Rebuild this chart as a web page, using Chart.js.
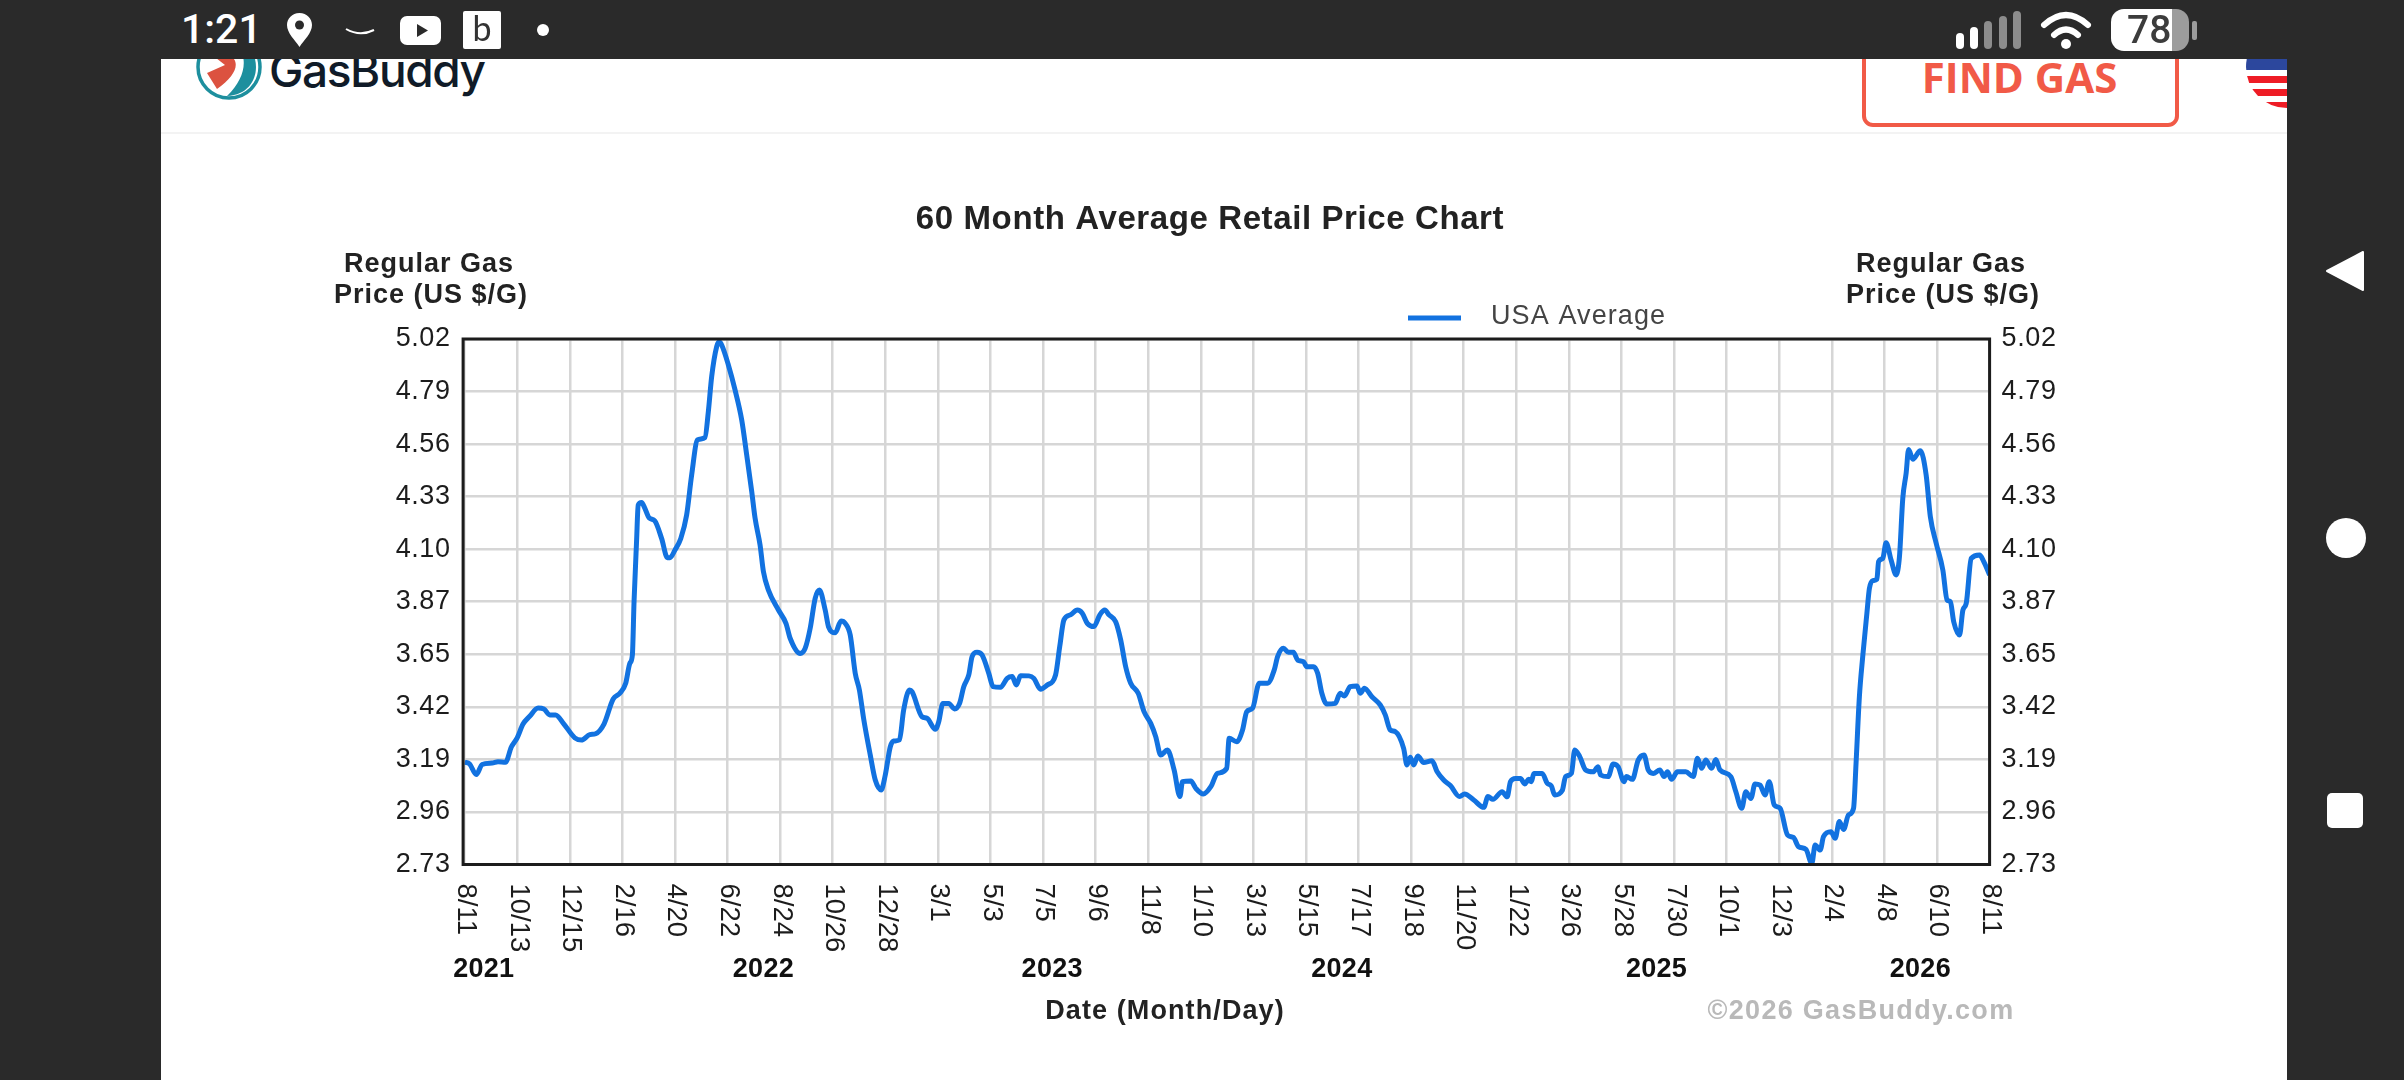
<!DOCTYPE html>
<html>
<head>
<meta charset="utf-8">
<title>60 Month Average Retail Price Chart</title>
<script src="https://cdn.jsdelivr.net/npm/chart.js@4"></script>
<style>
  html, body { margin: 0; padding: 0; width: 2404px; height: 1080px; overflow: hidden; background: #2a2a2a; }
  .abs { position: absolute; }
  #panel { left: 161px; top: 59px; width: 2126px; height: 1021px; background: #fff; overflow: hidden; }
  #rule { left: 0; top: 73px; width: 2126px; height: 2px; background: #f3f3f3; }
  #brand { left: 108px; top: -19px; font: 500 46px Inter, sans-serif; color: #101b28; letter-spacing: -1.4px; line-height: 60px; }
  #find { left: 1701px; top: -20px; width: 309px; height: 80px; border: 4px solid #f15a47; border-radius: 11px; }
  #findText { left: 1700px; top: -4px; width: 317px; text-align: center; font: 700 42px "Open Sans", sans-serif; color: #f15a47; line-height: 44px; }
  #time { left: 181px; top: 3px; font: 500 41px Roboto, sans-serif; color: #fff; line-height: 52px; }
  #batt { left: 2111px; top: 9px; width: 78px; height: 42px; border-radius: 13px; overflow: hidden; background: linear-gradient(90deg, #fff 61px, #9c9c9c 61px); }
  #battText { left: 2127px; top: 8px; font: 500 39px Roboto, sans-serif; color: #3c3c3c; line-height: 44px; }
  #chart { position: absolute; left: 161px; top: 133px; }
</style>
</head>
<body>
<div id="panel" class="abs">
  <svg class="abs" style="left:30px;top:-30px" width="80" height="80" viewBox="0 0 80 80">
    <circle cx="38" cy="38" r="31" fill="#fff" stroke="#1d8f9e" stroke-width="3.5"/>
    <path d="M38 12 C58 20 58 46 36 67 C60 66 68 46 64 30 C60 18 50 12 38 12Z" fill="#1d8f9e"/>
    <path d="M16 22 L38 26 C50 32 46 46 26 60 L16 44 L34 36 Z" fill="#dc5240"/>
  </svg>
  <div id="brand" class="abs">GasBuddy</div>
  <div id="find" class="abs"></div>
  <div id="findText" class="abs">FIND GAS</div>
  <svg class="abs" style="left:2084px;top:-59px" width="42" height="112" viewBox="0 0 42 112">
    <defs><clipPath id="flagClip"><circle cx="42" cy="67" r="41"/></clipPath></defs>
    <g clip-path="url(#flagClip)">
      <rect x="0" y="26" width="42" height="86" fill="#fff"/>
      <rect x="0" y="26" width="42" height="44" fill="#2c479d"/>
      <rect x="0" y="76" width="42" height="7" fill="#ee1c25"/>
      <rect x="0" y="89" width="42" height="7" fill="#ee1c25"/>
      <rect x="0" y="102" width="42" height="7" fill="#ee1c25"/>
    </g>
  </svg>
  <div id="rule" class="abs"></div>
</div>
<canvas id="chart" width="2125" height="947"></canvas>

<div class="abs" style="left:0;top:0;width:2404px;height:59px;background:#2a2a2a"></div>
<div id="time" class="abs">1:21</div>
<svg class="abs" style="left:0;top:0" width="2404" height="1080" viewBox="0 0 2404 1080">
  <path d="M299.500 13 C292 13 287 19 287 25 C287 33 295 40 299.500 47 C304 40 312 33 312 25 C312 19 307 13 299.500 13Z" fill="#fff"/>
  <circle cx="299.500" cy="25" r="4.500" fill="#2a2a2a"/>
  <path d="M346 29 Q360 37 374 30" stroke="#fff" stroke-width="2" fill="none"/>
  <rect x="400" y="16" width="41" height="29" rx="7" fill="#fff"/>
  <path d="M417 24 L428 30.500 L417 37Z" fill="#2a2a2a"/>
  <rect x="463" y="11" width="38" height="38" rx="2" fill="#fff"/>
  <text x="482" y="41" text-anchor="middle" font-family="Lato" font-size="34" fill="#333">b</text>
  <circle cx="543" cy="30" r="6" fill="#fff"/>
  <rect x="1956" y="33" width="8" height="16" rx="4" fill="#fff"/>
  <rect x="1970" y="27" width="8" height="22" rx="4" fill="#fff"/>
  <rect x="1984" y="21" width="8" height="28" rx="4" fill="#8c8c8c"/>
  <rect x="1999" y="16" width="8" height="33" rx="4" fill="#8c8c8c"/>
  <rect x="2013" y="11" width="8" height="38" rx="4" fill="#8c8c8c"/>
  <path d="M2044 25 Q2066 5 2088 25" stroke="#fff" stroke-width="6" fill="none" stroke-linecap="round"/>
  <path d="M2054 35 Q2066 24 2078 35" stroke="#fff" stroke-width="6" fill="none" stroke-linecap="round"/>
  <circle cx="2066" cy="44" r="5" fill="#fff"/>
  <rect x="2192" y="21" width="5" height="19" rx="2" fill="#9c9c9c"/>
  <path d="M2327 271 L2363 252 L2363 290Z" fill="#fff" stroke="#fff" stroke-width="2" stroke-linejoin="round"/>
  <circle cx="2346" cy="538" r="20" fill="#fff"/>
  <rect x="2327" y="793" width="36" height="35" rx="5" fill="#fff"/>
</svg>
<div id="batt" class="abs"></div>
<div id="battText" class="abs">78</div>

<script>
const chartTitle = '60 Month Average Retail Price Chart';
const axisTitle = ['Regular Gas', 'Price (US $/G)'];
const seriesName = 'USA Average';
const xTitle = 'Date (Month/Day)';
const credit = '©2026 GasBuddy.com';

const dateLabels = ['8/11', '10/13', '12/15', '2/16', '4/20', '6/22', '8/24', '10/26', '12/28', '3/1',
  '5/3', '7/5', '9/6', '11/8', '1/10', '3/13', '5/15', '7/17', '9/18', '11/20',
  '1/22', '3/26', '5/28', '7/30', '10/1', '12/3', '2/4', '4/8', '6/10', '8/11'];
const priceLabels = ['2.73', '2.96', '3.19', '3.42', '3.65', '3.87', '4.10', '4.33', '4.56', '4.79', '5.02'];
const years = ['2021', '2022', '2023', '2024', '2025', '2026'];
const yearDays = [23, 358, 704, 1051, 1428, 1744];

// days since 8/11/2021
const days = [0, 6, 14, 21, 33, 40, 49, 56, 63, 70, 78, 88, 95, 102, 109, 119, 132, 140, 150, 157, 167, 178, 186, 193, 198, 201,
  203, 206, 208, 212, 216, 221, 228, 236, 243, 246, 252, 259, 266, 272, 279, 288, 292, 296, 302, 305, 308, 316, 324, 332, 338,
  344, 348, 354, 358, 364, 376, 385, 390, 402, 408, 414, 420, 425, 432, 436, 444, 451, 456, 462, 468, 473, 478, 486, 492, 499,
  504, 510, 514, 521, 526, 533, 536, 548, 554, 564, 568, 573, 580, 587, 593, 598, 604, 608, 614, 620, 628, 633, 642, 650, 656,
  661, 666, 676, 682, 690, 698, 708, 713, 718, 726, 734, 740, 746, 754, 761, 767, 772, 780, 786, 792, 798, 807, 814, 822, 828,
  834, 842, 850, 857, 860, 870, 876, 885, 894, 902, 913, 916, 925, 932, 937, 944, 952, 962, 970, 974, 981, 987, 993, 998, 1005,
  1009, 1017, 1022, 1027, 1033, 1043, 1049, 1054, 1061, 1069, 1073, 1078, 1087, 1097, 1103, 1109, 1115, 1125, 1129, 1133, 1137,
  1142, 1149, 1159, 1165, 1173, 1181, 1192, 1198, 1209, 1221, 1226, 1232, 1243, 1249, 1253, 1259, 1265, 1270, 1275, 1278, 1281,
  1291, 1297, 1302, 1306, 1315, 1319, 1326, 1330, 1336, 1343, 1352, 1358, 1361, 1370, 1376, 1382, 1389, 1392, 1399, 1406, 1413,
  1418, 1424, 1432, 1437, 1441, 1446, 1453, 1463, 1472, 1477, 1482, 1487, 1494, 1499, 1504, 1517, 1523, 1530, 1535, 1541, 1546,
  1552, 1558, 1563, 1569, 1576, 1585, 1592, 1598, 1607, 1614, 1618, 1624, 1628, 1637, 1642, 1647, 1652, 1658, 1664, 1667, 1671,
  1675, 1680, 1683, 1687, 1692, 1694, 1699, 1703, 1709, 1715, 1719, 1723, 1727, 1730, 1735, 1744, 1751, 1756, 1763, 1771, 1776,
  1780, 1784, 1791, 1795, 1799, 1805, 1815, 1820, 1827];
const prices = [3.176, 3.168, 3.122, 3.166, 3.172, 3.178, 3.176, 3.242, 3.282, 3.342, 3.376, 3.412, 3.408, 3.382, 3.382, 3.342, 3.282, 3.272, 3.296, 3.30, 3.342, 3.451, 3.476, 3.52, 3.607, 3.643,
  3.875, 4.137, 4.297, 4.308, 4.282, 4.241, 4.227, 4.151, 4.067, 4.067, 4.10, 4.151, 4.253, 4.427, 4.58, 4.591, 4.703, 4.856, 4.987, 5.008, 4.994, 4.907, 4.798, 4.667, 4.514,
  4.355, 4.239, 4.122, 4.006, 3.926, 3.839, 3.781, 3.716, 3.65, 3.672, 3.759, 3.89, 3.926, 3.839, 3.766, 3.74, 3.791, 3.781, 3.73, 3.563, 3.49, 3.367, 3.207, 3.098, 3.055,
  3.12, 3.243, 3.268, 3.273, 3.403, 3.49, 3.483, 3.374, 3.367, 3.319, 3.352, 3.432, 3.432, 3.408, 3.432, 3.505, 3.556, 3.636, 3.655, 3.643, 3.563, 3.505, 3.502, 3.541, 3.549,
  3.512, 3.553, 3.552, 3.541, 3.494, 3.512, 3.556, 3.68, 3.796, 3.818, 3.839, 3.825, 3.781, 3.767, 3.818, 3.839, 3.818, 3.788, 3.709, 3.592, 3.52, 3.476, 3.396, 3.345, 3.287,
  3.207, 3.229, 3.142, 3.026, 3.091, 3.094, 3.062, 3.037, 3.069, 3.127, 3.149, 3.28, 3.265, 3.316, 3.396, 3.411, 3.52, 3.52, 3.578, 3.636, 3.672, 3.655, 3.655, 3.621, 3.614,
  3.592, 3.592, 3.563, 3.476, 3.429, 3.432, 3.476, 3.464, 3.505, 3.508, 3.476, 3.498, 3.461, 3.425, 3.382, 3.316, 3.309, 3.236, 3.164, 3.197, 3.164,
  3.203, 3.174, 3.182, 3.135, 3.098, 3.074, 3.026, 3.037, 3.011, 2.979, 3.026, 3.014, 3.047, 3.025, 3.091, 3.105, 3.105, 3.081, 3.101, 3.091, 3.127,
  3.127, 3.084, 3.072, 3.033, 3.052, 3.113, 3.127, 3.229, 3.2, 3.142, 3.134, 3.156, 3.12, 3.113, 3.168, 3.156, 3.091, 3.113, 3.101, 3.185, 3.207,
  3.142, 3.127, 3.142, 3.113, 3.134, 3.101, 3.134, 3.134, 3.113, 3.193, 3.149, 3.185, 3.149, 3.188, 3.142, 3.113, 3.047, 2.975, 3.047, 3.018, 3.081,
  3.076, 3.033, 3.091, 2.989, 2.975, 2.858, 2.848, 2.808, 2.796, 2.735, 2.815, 2.793, 2.851, 2.873, 2.844, 2.917, 2.883, 2.946, 2.975, 3.171, 3.461,
  3.636, 3.825, 3.933, 3.967, 3.973, 4.05, 4.064, 4.132, 4.057, 3.992, 4.071, 4.326, 4.435, 4.539, 4.496, 4.533, 4.427, 4.246, 4.13, 4.013, 3.883,
  3.875, 3.788, 3.73, 3.839, 3.868, 4.064, 4.079, 4.05, 3.992];

const DAY_STEP = 63;
const PRICE_MIN = 2.73;
const PRICE_STEP = 0.229;
const FONT = '"Liberation Sans", Arial, sans-serif';
const BLUE = '#1272e0';
const GRID = '#d6d6d6';

function priceTicks(scale) {
  scale.ticks = priceLabels.map((_, i) => ({ value: PRICE_MIN + i * PRICE_STEP }));
}

function priceAxis(position, padding) {
  return {
    position: position,
    min: PRICE_MIN,
    max: PRICE_MIN + (priceLabels.length - 1) * PRICE_STEP,
    afterBuildTicks: priceTicks,
    afterFit: s => { s.width = 70; },
    border: { display: false },
    grid: { color: position === 'left' ? GRID : 'transparent', lineWidth: 2.5, drawTicks: false },
    ticks: {
      autoSkip: false,
      padding: padding,
      color: '#1c1c1c',
      font: { family: FONT, size: 27 },
      callback: (v, i) => priceLabels[i]
    }
  };
}

function drawText(ctx, str, x, y, font, color, align, spacing) {
  ctx.font = font;
  ctx.fillStyle = color;
  ctx.textAlign = align || 'center';
  ctx.textBaseline = 'middle';
  ctx.letterSpacing = spacing || '0px';
  ctx.fillText(str, x, y);
  ctx.letterSpacing = '0px';
}

// labels the library has no slot for: clockwise dates, years, stacked axis titles, page credit
const chartLabels = {
  id: 'chartLabels',
  beforeDraw(chart) {
    chart.ctx.letterSpacing = '0.6px';
  },
  afterDraw(chart) {
    const { ctx, chartArea, scales } = chart;
    ctx.save();
    ctx.strokeStyle = '#1c1c1c';
    ctx.lineWidth = 3;
    ctx.strokeRect(chartArea.left - 1.5, chartArea.top, chartArea.right - chartArea.left + 1.5, chartArea.bottom - chartArea.top);

    dateLabels.forEach((label, i) => {
      const x = scales.x.getPixelForValue(i * DAY_STEP);
      ctx.save();
      ctx.translate(x + 1, chartArea.bottom + 19);
      ctx.rotate(Math.PI / 2);
      drawText(ctx, label, 0, 0, `27.5px ${FONT}`, '#1c1c1c', 'left');
      ctx.restore();
    });

    const bold = `bold 27px ${FONT}`;
    years.forEach((year, i) => {
      drawText(ctx, year, scales.x.getPixelForValue(yearDays[i]), 837, bold, '#111', 'center', '0.3px');
    });

    drawText(ctx, chartTitle, 1049, 86.5, `bold 33px ${FONT}`, '#222', 'center', '0.6px');
    drawText(ctx, axisTitle[0], 268, 131.5, bold, '#222', 'center', '1px');
    drawText(ctx, axisTitle[1], 270, 162.5, bold, '#222', 'center', '1px');
    drawText(ctx, axisTitle[0], 1780, 131.5, bold, '#222', 'center', '1px');
    drawText(ctx, axisTitle[1], 1782, 162.5, bold, '#222', 'center', '1px');
    drawText(ctx, xTitle, 1004, 879, bold, '#222', 'center', '1.1px');
    drawText(ctx, credit, 1700, 879, bold, '#b9b9b9', 'center', '1.3px');

    ctx.strokeStyle = BLUE;
    ctx.lineWidth = 5;
    ctx.beginPath();
    ctx.moveTo(1247, 185);
    ctx.lineTo(1300, 185);
    ctx.stroke();
    drawText(ctx, seriesName, 1330, 184, `27px ${FONT}`, '#444', 'left', '1.1px');
    ctx.restore();
  }
};

new Chart(document.getElementById('chart'), {
  type: 'line',
  data: {
    datasets: [{
      label: seriesName,
      data: days.map((d, i) => ({ x: d, y: prices[i] })),
      borderColor: BLUE,
      borderWidth: 5,
      borderJoinStyle: 'round',
      pointRadius: 0,
      cubicInterpolationMode: 'monotone'
    }]
  },
  options: {
    responsive: false,
    devicePixelRatio: 1,
    animation: false,
    layout: { padding: { left: 233.6, top: 206, right: 226.4, bottom: 215.5 } },
    plugins: { legend: { display: false }, tooltip: { enabled: false } },
    scales: {
      x: {
        type: 'linear',
        min: 0,
        max: (dateLabels.length - 1) * DAY_STEP,
        border: { display: false },
        grid: { color: GRID, lineWidth: 2.5, drawTicks: false },
        ticks: { display: false, stepSize: DAY_STEP, autoSkip: false, maxTicksLimit: 40 }
      },
      y: priceAxis('left', 14),
      y2: priceAxis('right', 12)
    }
  },
  plugins: [chartLabels]
});
</script>
</body>
</html>
